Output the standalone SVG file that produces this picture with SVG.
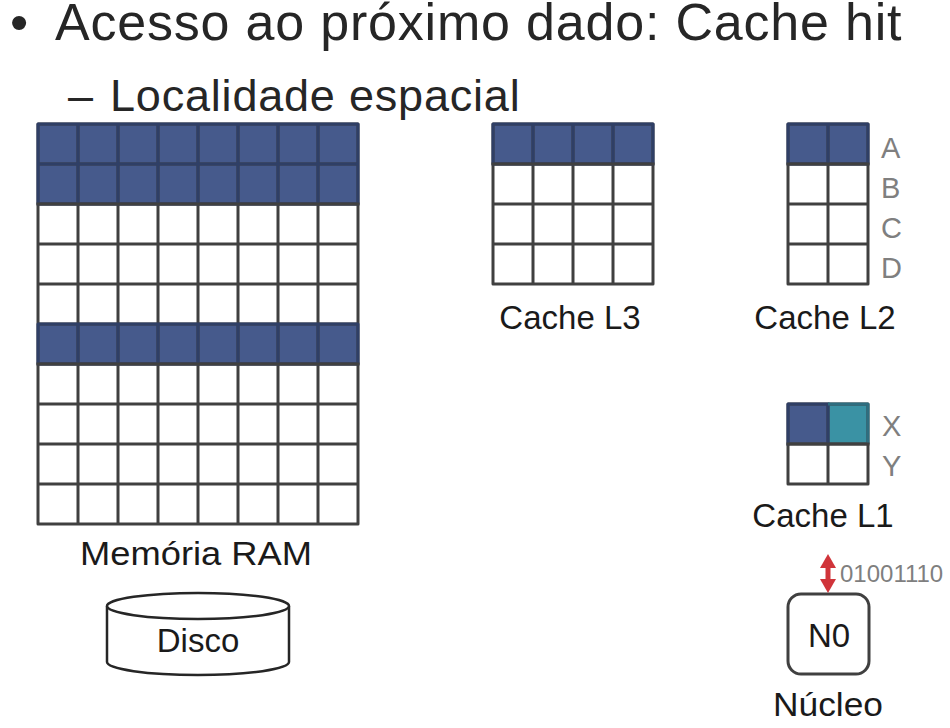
<svg xmlns="http://www.w3.org/2000/svg" width="950" height="728" viewBox="0 0 950 728">
<style>
text{font-family:"Liberation Sans",Arial,sans-serif;}
.title{font-size:52px;fill:#262626;letter-spacing:0.8px;}
.sub{font-size:45px;fill:#262626;letter-spacing:0.8px;}
.lbl{font-size:33px;fill:#1a1a1a;text-anchor:middle;}
.tag{font-size:29px;fill:#7f7f7f;}
.bits{font-size:24px;fill:#7f7f7f;}
.wf{fill:#ffffff;}
.bf{fill:#465A8C;}
.tf{fill:#3A92A4;}
.gl{fill:none;stroke:#404040;stroke-width:3;stroke-linejoin:round;stroke-linecap:square;}
.bl{fill:none;stroke:#2F3F66;stroke-width:3;stroke-linejoin:round;stroke-linecap:square;}
.tl{fill:none;stroke:#2E6E80;stroke-width:3;stroke-linejoin:round;}
.box{fill:#ffffff;stroke:#404040;stroke-width:3;}
.disk{fill:#ffffff;stroke:#262626;stroke-width:2.5;}
.arr{stroke:#D0343A;stroke-width:5;fill:none;}
</style>
<defs>
<marker id="ah" viewBox="0 0 14 16" refX="0" refY="8" markerWidth="14" markerHeight="16" orient="auto-start-reverse" markerUnits="userSpaceOnUse">
<path d="M0,0 L14,8 L0,16 z" fill="#D0343A"/>
</marker>
</defs>

<g id="title">
<text class="title" y="40"><tspan x="10" style="letter-spacing:0">•</tspan><tspan x="55">Acesso ao próximo dado: Cache hit</tspan></text>
<text class="sub" y="111"><tspan x="68" style="letter-spacing:0">–</tspan><tspan x="110">Localidade espacial</tspan></text>
</g>

<g id="ram">
<rect class="wf" x="38" y="124" width="320" height="400"/>
<rect class="bf" x="38" y="124" width="320" height="80"/>
<rect class="bf" x="38" y="324" width="320" height="40"/>
<path class="gl" d="M38,124H358V524H38Z M78,124V524 M118,124V524 M158,124V524 M198,124V524 M238,124V524 M278,124V524 M318,124V524 M38,164H358 M38,204H358 M38,244H358 M38,284H358 M38,324H358 M38,364H358 M38,404H358 M38,444H358 M38,484H358"/>
<path class="bl" d="M38,124H358V204H38Z M38,164H358 M78,124V204 M118,124V204 M158,124V204 M198,124V204 M238,124V204 M278,124V204 M318,124V204"/>
<path class="bl" d="M38,324H358V364H38Z M78,324V364 M118,324V364 M158,324V364 M198,324V364 M238,324V364 M278,324V364 M318,324V364"/>
<path class="gl" d="M38,204H358 M38,364H358"/>
<text class="lbl" x="196" y="565" textLength="232" lengthAdjust="spacingAndGlyphs">Memória RAM</text>
</g>

<g id="disco">
<path class="disk" d="M107,606V662A91,13 0 0 0 289,662V606"/>
<ellipse class="disk" cx="198" cy="606" rx="91" ry="13"/>
<text class="lbl" x="198" y="652">Disco</text>
</g>

<g id="cache-l3">
<rect class="wf" x="493" y="124" width="160" height="160"/>
<rect class="bf" x="493" y="124" width="160" height="40"/>
<path class="gl" d="M493,124H653V284H493Z M533,124V284 M573,124V284 M613,124V284 M493,164H653 M493,204H653 M493,244H653"/>
<path class="bl" d="M493,124H653V164H493Z M533,124V164 M573,124V164 M613,124V164"/>
<path class="gl" d="M493,164H653"/>
<text class="lbl" x="570" y="329">Cache L3</text>
</g>

<g id="cache-l2">
<rect class="wf" x="788" y="124" width="80" height="160"/>
<rect class="bf" x="788" y="124" width="80" height="40"/>
<path class="gl" d="M788,124H868V284H788Z M828,124V284 M788,164H868 M788,204H868 M788,244H868"/>
<path class="bl" d="M788,124H868V164H788Z M828,124V164"/>
<path class="gl" d="M788,164H868"/>
<text class="tag" x="881" y="158">A</text>
<text class="tag" x="881" y="198">B</text>
<text class="tag" x="881" y="238">C</text>
<text class="tag" x="881" y="278">D</text>
<text class="lbl" x="825" y="329">Cache L2</text>
</g>

<g id="cache-l1">
<rect class="wf" x="788" y="404" width="80" height="80"/>
<rect class="bf" x="788" y="404" width="40" height="40"/>
<rect class="tf" x="828" y="404" width="40" height="40"/>
<path class="gl" d="M788,404H868V484H788Z M828,404V484 M788,444H868"/>
<path class="bl" d="M828,404H788V444 M828,404V444"/>
<path class="tl" d="M828,404H868V444"/>
<path class="gl" d="M788,444H868"/>
<text class="tag" x="882" y="436">X</text>
<text class="tag" x="882" y="476">Y</text>
<text class="lbl" x="823" y="527">Cache L1</text>
</g>

<g id="nucleo">
<rect class="box" x="788" y="594" width="81" height="80" rx="13"/>
<text class="lbl" x="829" y="647">N0</text>
<text class="lbl" x="828" y="716" textLength="110" lengthAdjust="spacingAndGlyphs">Núcleo</text>
</g>

<g id="connectors">
<path class="arr" d="M828,568V579" marker-start="url(#ah)" marker-end="url(#ah)"/>
<text class="bits" x="840" y="582">01001110</text>
</g>
</svg>
